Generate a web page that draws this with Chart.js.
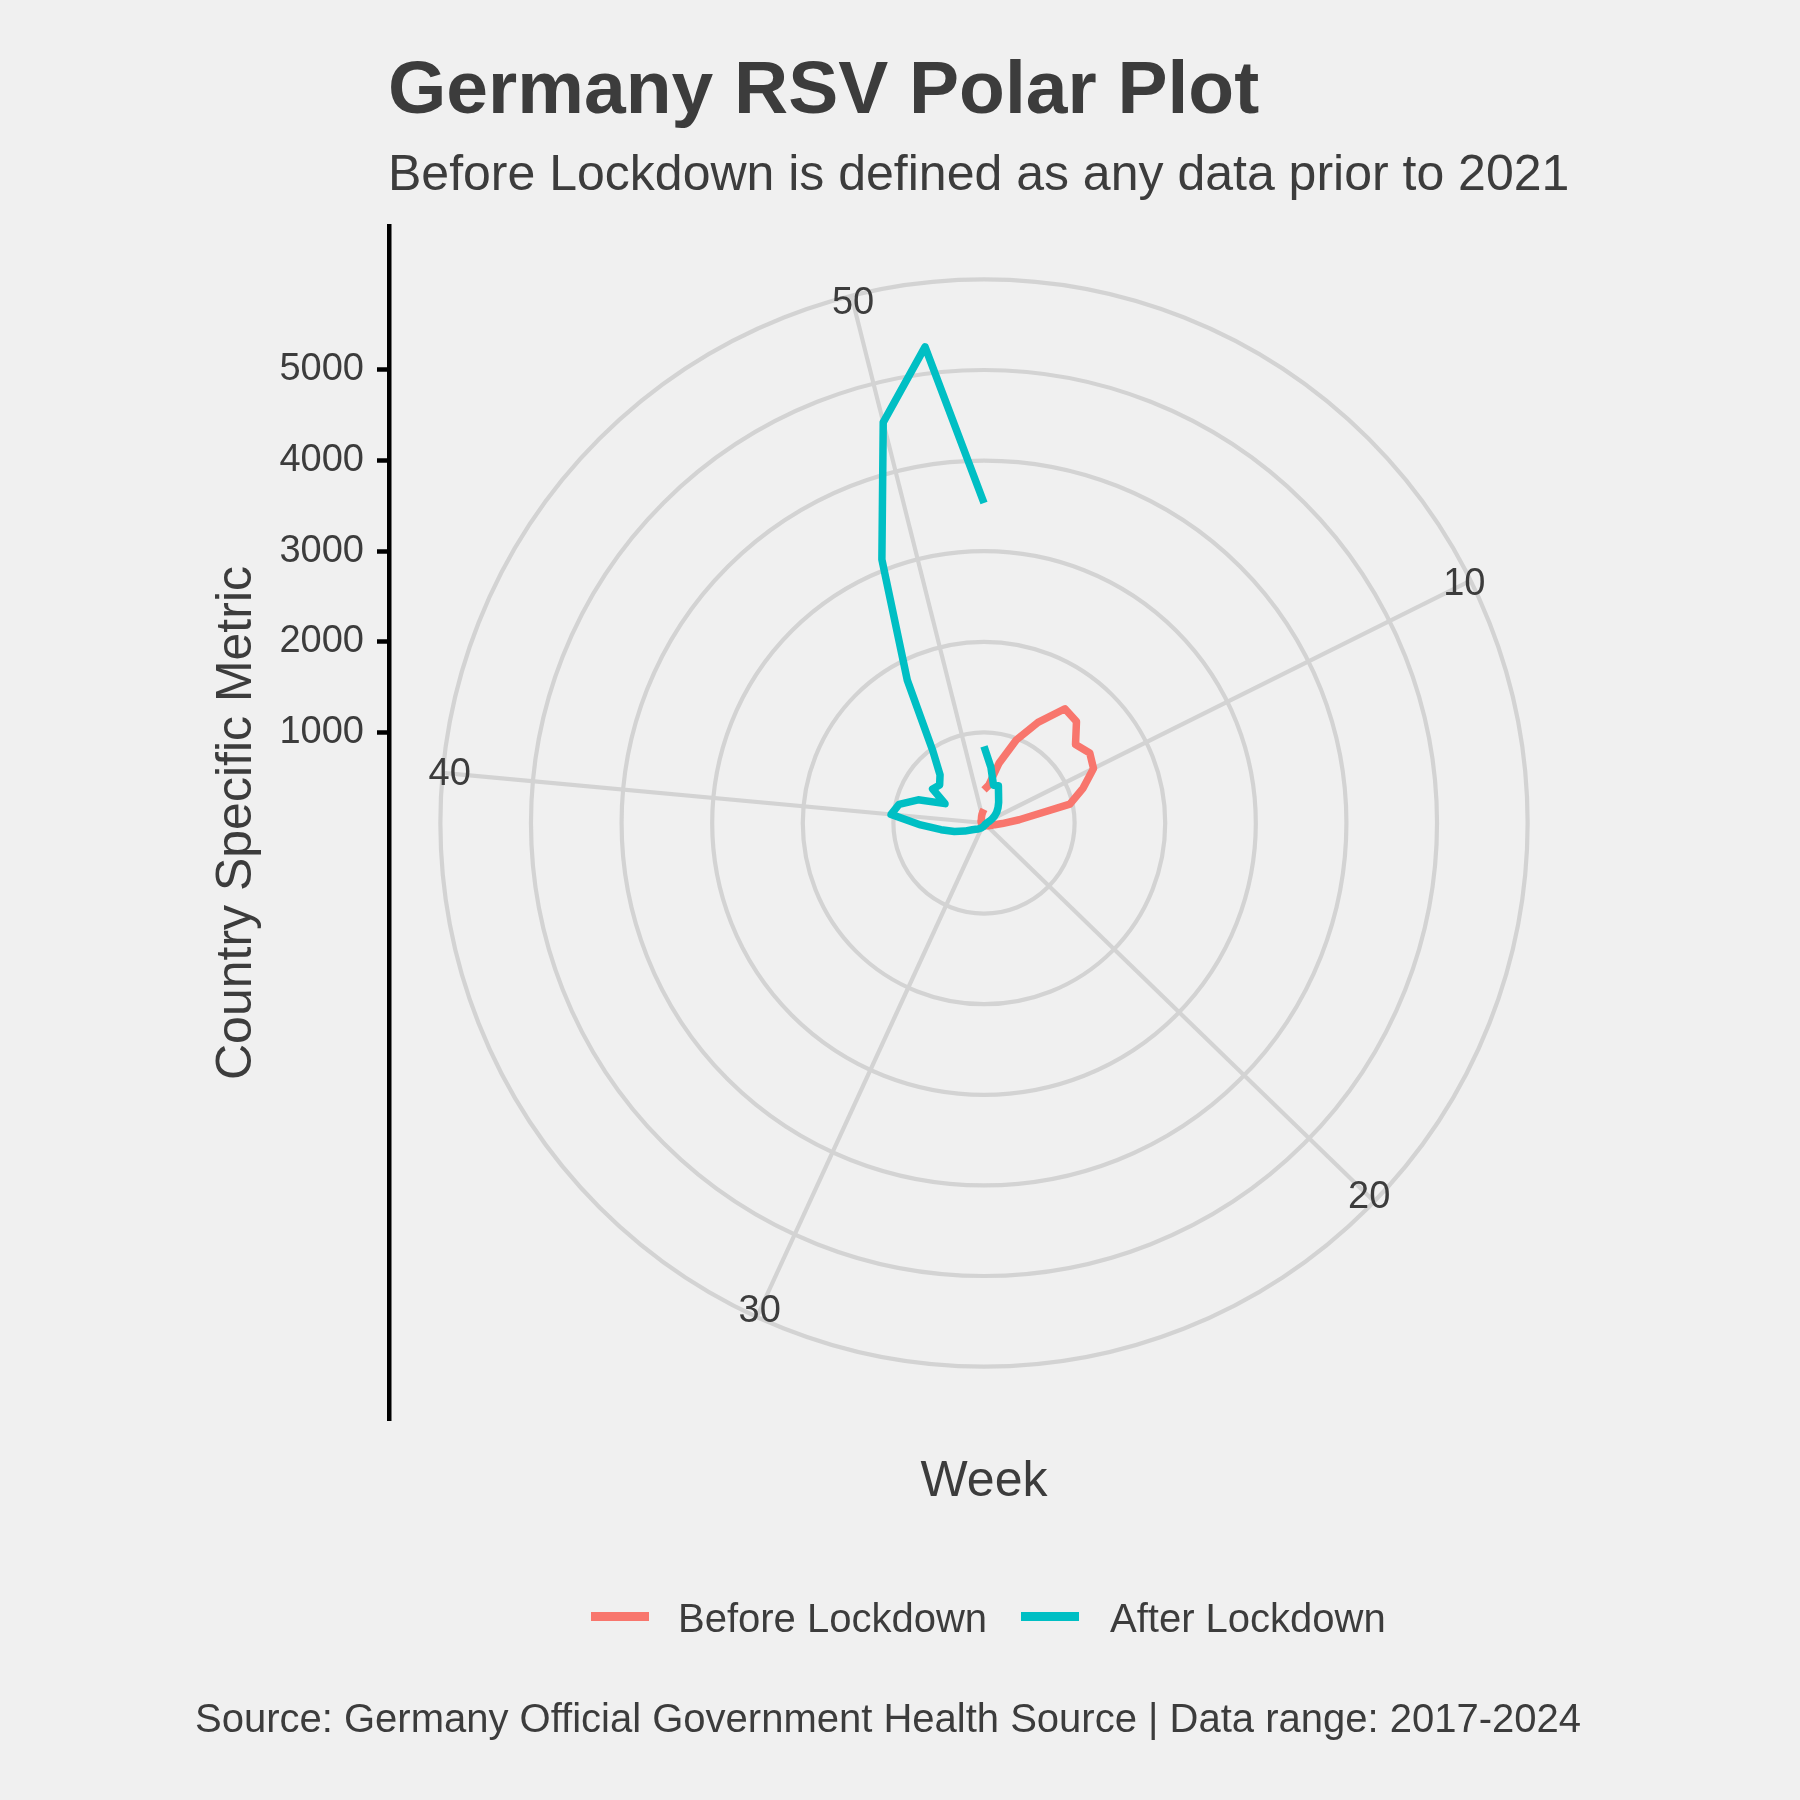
<!DOCTYPE html>
<html>
<head>
<meta charset="utf-8">
<script src="https://cdn.jsdelivr.net/npm/chart.js@4.4.1/dist/chart.umd.min.js"></script>
<style>
html, body { margin: 0; padding: 0; background: #F0F0F0; }
#wrap { position: relative; width: 1800px; height: 1800px; background: #F0F0F0;
        font-family: "Liberation Sans", Arial, Helvetica, sans-serif; color: #3C3C3C; }
#c { position: absolute; left: 0; top: 0; }
.t { position: absolute; white-space: nowrap; }
.key { position: absolute; height: 9px; width: 58px; }
</style>
</head>
<body>
<div id="wrap">
  <canvas id="c" width="1800" height="1800"></canvas>
  <div class="t" style="left:388px; top:50px; font-size:75px; line-height:75px; font-weight:bold;">Germany RSV Polar Plot</div>
  <div class="t" style="left:388px; top:148px; font-size:50px; line-height:50px;">Before Lockdown is defined as any data prior to 2021</div>
  <div class="t" style="left:784px; width:400px; text-align:center; top:1454px; font-size:50px; line-height:50px;">Week</div>
  <div class="key" style="left:591px; top:1612px; background:#F8766D;"></div>
  <div class="t" style="left:678px; top:1598px; font-size:40px; line-height:40px;">Before Lockdown</div>
  <div class="key" style="left:1021px; top:1612px; background:#00BFC4;"></div>
  <div class="t" style="left:1110px; top:1598px; font-size:40px; line-height:40px;">After Lockdown</div>
  <div class="t" style="left:88px; width:1600px; text-align:center; top:1698px; font-size:40px; line-height:40px;">Source: Germany Official Government Health Source | Data range: 2017-2024</div>
</div>
<script>
// ---- data ----
const weeks = [1,2,3,4,5,6,7,8,9,10,11,12,13,14,15,16,17,18,19,20,21,22,23,24,25,26,
               27,28,29,30,31,32,33,34,35,36,37,38,39,40,41,42,43,44,45,46,47,48,49,50,51,52];
const weekTicks = [10, 20, 30, 40, 50];
const yTicks = [1000, 2000, 3000, 4000, 5000];
const rRings = [0, 1000, 2000, 3000, 4000, 5000, 6000];
const seriesNames = ["Before Lockdown", "After Lockdown"];
const beforeLockdown = [365, 420, 680, 980, 1260, 1545, 1515, 1330, 1400, 1350, 1160, 970, 390,
                        200, 120, 90, 70, 60, 50, 45, 40, 35, 30, 30, 25, 25,
                        25, 25, 25, 25, 25, 25, 25, 25, 25, 25, 25, 25, 30, 30, 30, 35,
                        35, 40, 40, 45, 50, 60, 75, 95, 120, 150];
const afterLockdown = [845, 620, 430, 440, 340, 280, 230, 185, 140, 100, 65, 45, 35,
                       30, 28, 25, 25, 22, 20, 20, 20, 20, 22, 25, 28, 30,
                       35, 40, 45, 55, 65, 80, 95, 115, 150, 230, 340, 480, 700, 1030,
                       960, 770, 480, 680, 645, 720, 980, 1790, 3120, 4560, 5295, 3532];

// ---- styling ----
const FONT = '"Liberation Sans", Arial, Helvetica, sans-serif';
const TEXT = '#3C3C3C';
const GRID = '#D3D3D3';
const GRID_W = 4.2;

// theta: continuous week scale, week 1 at top and week 52 back at 360 degrees
const thetaLabels = weeks.slice(0, weeks.length - 1);

const polarDecor = {
  id: 'polarDecor',
  beforeDatasetsDraw(chart) {
    const s = chart.scales.r, ctx = chart.ctx;
    const outer = s.getDistanceFromCenterForValue(rRings[rRings.length - 1]);
    ctx.save();
    ctx.strokeStyle = GRID;
    ctx.lineWidth = GRID_W;
    weekTicks.forEach(w => {
      const p = s.getPointPosition(weeks.indexOf(w), outer);
      ctx.beginPath();
      ctx.moveTo(s.xCenter, s.yCenter);
      ctx.lineTo(p.x, p.y);
      ctx.stroke();
    });
    ctx.restore();
  },
  afterDatasetsDraw(chart) {
    const s = chart.scales.r, ctx = chart.ctx;
    const d = s.getDistanceFromCenterForValue(rRings[rRings.length - 1]) - 7;
    ctx.save();
    ctx.fillStyle = TEXT;
    ctx.font = '38px ' + FONT;
    ctx.textAlign = 'center';
    ctx.textBaseline = 'middle';
    weekTicks.forEach(w => {
      const p = s.getPointPosition(weeks.indexOf(w), d);
      ctx.fillText(String(w), p.x, p.y + 1);
    });
    ctx.restore();
  }
};

new Chart(document.getElementById('c'), {
  type: 'radar',
  data: {
    labels: thetaLabels,
    datasets: [
      { label: seriesNames[0], data: beforeLockdown, borderColor: '#F8766D', borderWidth: 7.5,
        fill: false, order: 2 },
      { label: seriesNames[1], data: afterLockdown, borderColor: '#00BFC4', borderWidth: 7.5,
        fill: false, order: 1 }
    ]
  },
  options: {
    responsive: false,
    devicePixelRatio: 1,
    animation: false,
    events: [],
    layout: { padding: { left: 150, right: 221, top: 226, bottom: 380 } },
    elements: {
      line: { fill: false, borderWidth: 7.5, tension: 0, borderJoinStyle: 'round', borderCapStyle: 'butt' },
      point: { radius: 0, hoverRadius: 0 }
    },
    plugins: { legend: { display: false }, tooltip: { enabled: false }, title: { display: false } },
    scales: {
      r: {
        min: 0,
        max: 6567,
        startAngle: 0,
        afterBuildTicks: s => { s.ticks = rRings.map(v => ({ value: v })); },
        ticks: { display: false },
        grid: { circular: true, color: GRID, lineWidth: GRID_W },
        angleLines: { display: false },
        pointLabels: { display: false }
      },
      y: {
        type: 'linear',
        position: 'left',
        min: -6589,
        max: 6589,
        afterBuildTicks: s => { s.ticks = yTicks.map(v => ({ value: v })); },
        afterFit: s => { s.width = 239; },
        border: { display: true, color: '#000000', width: 4.5 },
        grid: { display: true, drawOnChartArea: false, drawTicks: true, tickLength: 12,
                tickWidth: 4.5, tickColor: '#000000', color: '#000000' },
        ticks: { color: TEXT, font: { size: 38, family: FONT }, padding: 13,
                 callback: v => String(v) },
        title: { display: true, text: 'Country Specific Metric', color: TEXT,
                 font: { size: 50, family: FONT }, padding: { top: 57, bottom: 0 } }
      }
    }
  },
  plugins: [polarDecor]
});
</script>
</body>
</html>
